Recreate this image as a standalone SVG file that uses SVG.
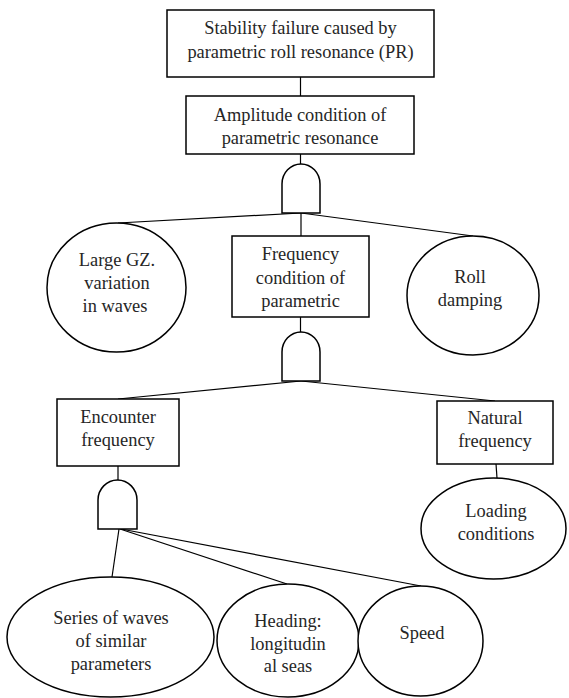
<svg xmlns="http://www.w3.org/2000/svg" width="569" height="698" viewBox="0 0 569 698">
  <style>
    .box { fill: #ffffff; stroke: #000000; stroke-width: 1.5; }
    .ev { fill: #ffffff; stroke: #000000; stroke-width: 1.5; }
    .gate { fill: #ffffff; stroke: #000000; stroke-width: 1.5; }
    .wire { fill: none; stroke: #000000; stroke-width: 1.2; }
    .lbl { font-family: 'Liberation Serif', 'Times New Roman', Times, serif; font-size: 18.4px; fill: #262626; text-anchor: middle; }
  </style>
  <rect width="569" height="698" fill="#ffffff"/>

  <!-- connectors -->
  <g id="connectors">
    <line class="wire" x1="300.5" y1="77" x2="300.5" y2="96"/>
    <line class="wire" x1="300.5" y1="154" x2="300.5" y2="164"/>
    <line class="wire" x1="301" y1="213" x2="118" y2="223"/>
    <line class="wire" x1="301" y1="213" x2="301" y2="236"/>
    <line class="wire" x1="301" y1="213" x2="473" y2="236"/>
    <line class="wire" x1="300.5" y1="317" x2="300.5" y2="332"/>
    <line class="wire" x1="301" y1="381" x2="118" y2="399"/>
    <line class="wire" x1="301" y1="381" x2="495" y2="401"/>
    <line class="wire" x1="496" y1="464" x2="497" y2="478"/>
    <line class="wire" x1="118" y1="466" x2="118" y2="480"/>
    <line class="wire" x1="119" y1="529" x2="112" y2="577"/>
    <line class="wire" x1="120" y1="529" x2="287" y2="584"/>
    <line class="wire" x1="121" y1="529" x2="421" y2="586"/>
  </g>

  <g class="lbl">
    <!-- top event -->
    <g id="top-event">
      <rect class="box" x="167" y="10" width="267" height="67"/>
      <text x="300.5" y="34">Stability failure caused by</text>
      <text x="300.5" y="58">parametric roll resonance (PR)</text>
    </g>

    <g id="amplitude-condition">
      <rect class="box" x="186" y="96" width="228" height="58"/>
      <text x="300" y="121">Amplitude condition of</text>
      <text x="300" y="144">parametric resonance</text>
    </g>

    <g id="and-gate-1">
      <path class="gate" d="M282,213 V184 A19,20 0 0 1 320,184 V213 Z"/>
    </g>

    <g id="large-gz">
      <ellipse class="ev" cx="116.5" cy="287.5" rx="69.5" ry="64.5"/>
      <text x="117" y="266">Large GZ.</text>
      <text x="117" y="289">variation</text>
      <text x="115" y="312">in waves</text>
    </g>

    <g id="frequency-condition">
      <rect class="box" x="232" y="236" width="137" height="81"/>
      <text x="300.5" y="260">Frequency</text>
      <text x="300.5" y="284">condition of</text>
      <text x="300.5" y="307">parametric</text>
    </g>

    <g id="roll-damping">
      <ellipse class="ev" cx="473" cy="295.5" rx="66" ry="59.5"/>
      <text x="470" y="283">Roll</text>
      <text x="470" y="306">damping</text>
    </g>

    <g id="and-gate-2">
      <path class="gate" d="M282,381 V352 A19,20 0 0 1 320,352 V381 Z"/>
    </g>

    <g id="encounter-frequency">
      <rect class="box" x="57" y="399" width="122" height="67"/>
      <text x="118" y="423">Encounter</text>
      <text x="118" y="446">frequency</text>
    </g>

    <g id="natural-frequency">
      <rect class="box" x="437" y="401" width="116" height="63"/>
      <text x="495" y="424">Natural</text>
      <text x="495" y="447">frequency</text>
    </g>

    <g id="loading-conditions">
      <ellipse class="ev" cx="493.5" cy="528.5" rx="72.5" ry="50.5"/>
      <text x="496" y="517">Loading</text>
      <text x="496" y="540">conditions</text>
    </g>

    <g id="and-gate-3">
      <path class="gate" d="M98,529 V500 A19.5,20 0 0 1 137,500 V529 Z"/>
    </g>

    <g id="wave-series">
      <ellipse class="ev" cx="110.5" cy="637" rx="103.5" ry="60"/>
      <text x="111" y="624">Series of waves</text>
      <text x="111" y="647">of similar</text>
      <text x="111" y="670">parameters</text>
    </g>

    <g id="heading">
      <ellipse class="ev" cx="288" cy="640.5" rx="71" ry="56.5"/>
      <text x="288" y="627">Heading:</text>
      <text x="288" y="650">longitudin</text>
      <text x="288" y="672">al seas</text>
    </g>

    <g id="speed">
      <ellipse class="ev" cx="420.5" cy="641" rx="62.5" ry="55"/>
      <text x="422" y="639">Speed</text>
    </g>
  </g>
</svg>
